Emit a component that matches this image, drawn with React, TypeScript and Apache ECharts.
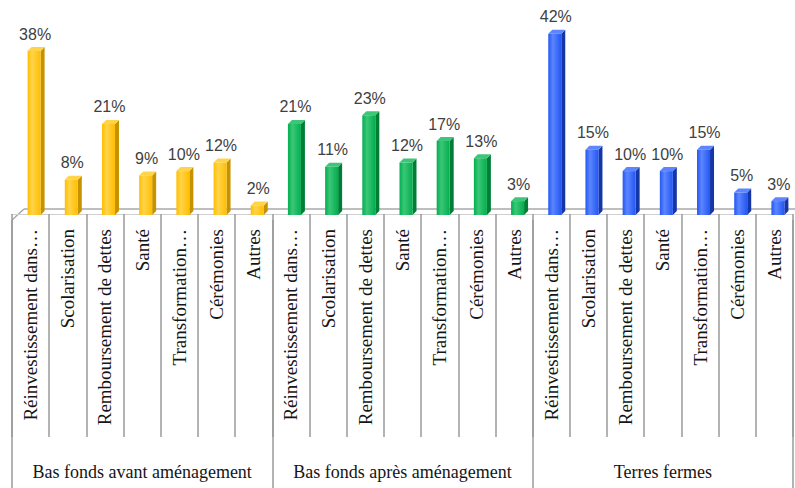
import React, { useEffect, useRef } from "react";
import * as echarts from "echarts";

const categories = [
  "Réinvestissement dans…",
  "Scolarisation",
  "Remboursement de dettes",
  "Santé",
  "Transformation…",
  "Cérémonies",
  "Autres",
];
const groups = [
  "Bas fonds avant aménagement",
  "Bas fonds après aménagement",
  "Terres fermes",
];
const avant = [38, 8, 21, 9, 10, 12, 2];
const apres = [21, 11, 23, 12, 17, 13, 3];
const terres = [42, 15, 10, 10, 15, 5, 3];

const palette = [
  { front: "#FFBE00", side: "#C79200", top: "#FFD44A" },
  { front: "#00AF4E", side: "#007E36", top: "#3CC678" },
  { front: "#2357F2", side: "#1536A6", top: "#5C85FF" },
];

const SERIF = "'Liberation Serif', 'Times New Roman', 'DejaVu Serif', serif";

export default function App() {
  const ref = useRef<HTMLDivElement>(null);
  useEffect(() => {
    if (!ref.current) return;
    const chart = echarts.init(ref.current, null, { renderer: "svg" });
    const allCats = [...categories, ...categories, ...categories];
    const values = [...avant, ...apres, ...terres];
    const data = values.map((v, i) => [i, v]);
    const tickStyle = { color: "#9a9a9a", width: 1.5 };
    chart.setOption({
      animation: false,
      backgroundColor: "#ffffff",
      grid: { left: 12, right: 2, top: 21, bottom: 274 },
      xAxis: [
        {
          type: "category",
          data: allCats,
          position: "bottom",
          offset: 6,
          axisLine: { show: true, lineStyle: { color: "#cfcfcf", width: 1 } },
          axisTick: { show: true, interval: 0, length: 223, lineStyle: tickStyle },
          axisLabel: {
            interval: 0,
            rotate: 90,
            margin: 9,
            fontFamily: SERIF,
            fontSize: 19,
            color: "#151515",
          },
        },
        {
          type: "category",
          data: groups,
          position: "bottom",
          offset: 6,
          axisLine: { show: false },
          axisTick: { show: true, interval: 0, length: 268, lineStyle: tickStyle },
          axisLabel: {
            interval: 0,
            margin: 243,
            fontFamily: SERIF,
            fontSize: 18,
            color: "#151515",
          },
        },
      ],
      yAxis: { type: "value", min: 0, max: 45, show: false },
      graphic: [
        {
          type: "line",
          shape: { x1: 24, y1: 209, x2: 795, y2: 209 },
          style: { stroke: "#a8a8a8", lineWidth: 1.5 },
        },
        {
          type: "line",
          shape: { x1: 12, y1: 220, x2: 24, y2: 209 },
          style: { stroke: "#a8a8a8", lineWidth: 1.5 },
        },
      ],
      series: [
        {
          type: "custom",
          xAxisIndex: 0,
          data,
          renderItem: (params: any, api: any) => {
            const idx = api.value(0);
            const v = api.value(1);
            const base = api.coord([idx, 0]);
            const top = api.coord([idx, v]);
            const cx = base[0];
            const w = 13;
            const d = 4;
            const dy = 4;
            const x0 = cx - 3;
            const x1 = x0 + w;
            const yb = base[1] + 1;
            const yt = top[1];
            const c = palette[Math.floor(idx / 7)];
            return {
              type: "group",
              children: [
                {
                  type: "polygon",
                  shape: { points: [[x1, yt], [x1 + d, yt - dy], [x1 + d, yb - dy], [x1, yb]] },
                  style: { fill: c.side },
                },
                {
                  type: "polygon",
                  shape: { points: [[x0, yt], [x0 + d, yt - dy], [x1 + d, yt - dy], [x1, yt]] },
                  style: { fill: c.top },
                },
                {
                  type: "rect",
                  shape: { x: x0, y: yt, width: w, height: yb - yt },
                  style: {
                    fill: new echarts.graphic.LinearGradient(0, 0, 1, 0, [
                      { offset: 0, color: c.front },
                      { offset: 0.35, color: c.top },
                      { offset: 1, color: c.front },
                    ]),
                  },
                },
                {
                  type: "text",
                  style: {
                    text: v + "%",
                    x: x0 + w / 2 + 1,
                    y: yt - 9,
                    align: "center",
                    verticalAlign: "bottom",
                    fontFamily: "'Liberation Sans', Arial, sans-serif",
                    fontSize: 16,
                    fill: "#404040",
                  },
                },
              ],
            };
          },
        },
      ],
    });
    return () => chart.dispose();
  }, []);
  return (
    <div
      ref={ref}
      style={{ position: "fixed", left: 0, top: 0, width: 795, height: 488, background: "#fff" }}
    />
  );
}
